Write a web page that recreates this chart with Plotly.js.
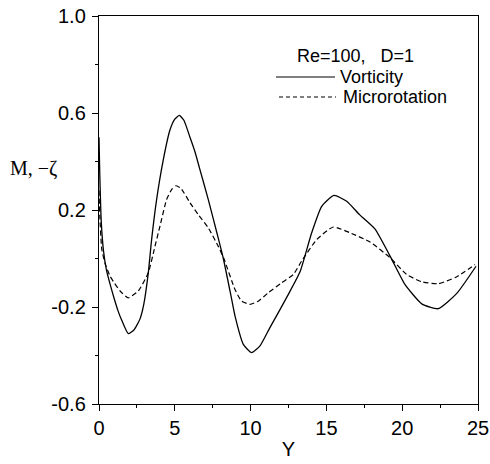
<!DOCTYPE html>
<html>
<head>
<meta charset="utf-8">
<script src="https://cdn.plot.ly/plotly-3.0.1.min.js"></script>
<style>
  html, body { margin: 0; padding: 0; background: #fff; }
  #chart { width: 490px; height: 464px; }
</style>
</head>
<body>
<div id="chart"></div>
<script>
// Vorticity profile (solid)
const vortY = [0, 0.05, 0.15, 0.3, 0.5, 0.75, 1.0, 1.25, 1.5, 1.93, 2.3, 2.7, 2.95, 3.25, 3.47, 3.8, 4.24, 4.68, 5.0, 5.3, 5.6, 6.0, 6.33, 6.62, 7.21, 7.8, 8.2, 8.71, 8.97, 9.52, 10.07, 10.62, 11.23, 11.83, 12.49, 13.26, 14.03, 14.69, 15.5, 16.34, 17.2, 18.2, 19.2, 20.18, 21.29, 22.38, 23.6, 24.87];
const vortVal = [0.50, 0.35, 0.15, 0.03, -0.05, -0.11, -0.165, -0.215, -0.255, -0.31, -0.295, -0.25, -0.19, -0.06, 0.078, 0.243, 0.407, 0.53, 0.575, 0.59, 0.57, 0.50, 0.44, 0.375, 0.243, 0.10, 0.0, -0.155, -0.237, -0.354, -0.388, -0.36, -0.29, -0.223, -0.148, -0.055, 0.106, 0.215, 0.26, 0.236, 0.18, 0.122, 0.01, -0.107, -0.187, -0.207, -0.144, -0.032];

// Microrotation profile (dashed)
const microY = [0, 0.05, 0.18, 0.4, 0.73, 1.0, 1.39, 1.93, 2.59, 3.25, 3.69, 4.02, 4.46, 4.8, 5.08, 5.4, 6.0, 6.55, 7.21, 7.87, 8.26, 8.97, 9.41, 9.96, 10.5, 11.17, 12.05, 12.82, 13.37, 14.36, 15.46, 16.56, 17.9, 19.2, 20.3, 21.29, 22.38, 23.6, 24.8];
const microVal = [0.28, 0.18, 0.04, -0.02, -0.073, -0.10, -0.134, -0.162, -0.134, -0.059, 0.05, 0.133, 0.243, 0.285, 0.30, 0.29, 0.23, 0.181, 0.126, 0.05, -0.004, -0.128, -0.176, -0.189, -0.176, -0.141, -0.10, -0.066, -0.01, 0.078, 0.13, 0.106, 0.067, 0.003, -0.066, -0.096, -0.104, -0.075, -0.025];

// Axis ticks
const xTicks = [0, 5, 10, 15, 20, 25];
const xMinor = [2.5, 7.5, 12.5, 17.5, 22.5];
const yTicks = [-0.6, -0.2, 0.2, 0.6, 1.0];
const yTickText = ["-0.6", "-0.2", "0.2", "0.6", "1.0"];
const yMinor = [-0.4, 0, 0.4, 0.8];

const seriesNames = ["Vorticity", "Microrotation"];
const legendTitle = "Re=100,\u00a0\u00a0\u00a0D=1";

const sans = "Liberation Sans, Arial, sans-serif";
const serif = "Liberation Serif, Times New Roman, serif";

const W = 490, H = 464;
const M = { l: 99, r: 12, t: 16, b: 60 };
const pw = W - M.l - M.r, ph = H - M.t - M.b;
const px = (x) => (x - M.l) / pw;   // pixel -> paper x
const py = (y) => (H - M.b - y) / ph; // pixel -> paper y

const traces = [
  {
    x: vortY, y: vortVal, type: "scatter", mode: "lines", name: seriesNames[0],
    line: { color: "#000", width: 1.3, shape: "spline", smoothing: 0.5 },
    showlegend: false, hoverinfo: "skip"
  },
  {
    x: microY, y: microVal, type: "scatter", mode: "lines", name: seriesNames[1],
    line: { color: "#000", width: 1.2, dash: "5px,3px", shape: "spline", smoothing: 0.5 },
    showlegend: false, hoverinfo: "skip"
  }
];

const axisCommon = {
  showgrid: false, zeroline: false,
  showline: true, linecolor: "#000", linewidth: 1.2, mirror: true,
  ticks: "outside", ticklen: 6, tickwidth: 1, tickcolor: "#000",
  tickfont: { family: sans, size: 20, color: "#000" }
};

const layout = {
  width: W, height: H,
  margin: M,
  paper_bgcolor: "#fff", plot_bgcolor: "#fff",
  showlegend: false,
  xaxis: Object.assign({}, axisCommon, {
    range: [0, 25],
    tickmode: "array", tickvals: xTicks,
    minor: { tickvals: xMinor, ticks: "outside", ticklen: 3, tickcolor: "#000", tickwidth: 1 },
    title: { text: "Y", font: { family: sans, size: 20, color: "#000" }, standoff: 3 }
  }),
  yaxis: Object.assign({}, axisCommon, {
    range: [-0.6, 1.0],
    tickmode: "array", tickvals: yTicks, ticktext: yTickText,
    ticklabelstandoff: 2,
    minor: { tickvals: yMinor, ticks: "outside", ticklen: 3, tickcolor: "#000", tickwidth: 1 }
  }),
  shapes: [
    { type: "line", xref: "paper", yref: "paper", x0: px(276), x1: px(335), y0: py(77), y1: py(77),
      line: { color: "#000", width: 1.2 } },
    { type: "line", xref: "paper", yref: "paper", x0: px(279), x1: px(336), y0: py(97), y1: py(97),
      line: { color: "#000", width: 1.2, dash: "4px,3px" } }
  ],
  annotations: [
    { xref: "paper", yref: "paper", x: px(33), y: py(168), xanchor: "center", yanchor: "middle",
      text: "M, \u2212\u03b6", showarrow: false, font: { family: serif, size: 20, color: "#000" } },
    { xref: "paper", yref: "paper", x: px(355), y: py(56), xanchor: "center", yanchor: "middle",
      text: legendTitle, showarrow: false, font: { family: sans, size: 18, color: "#000" } },
    { xref: "paper", yref: "paper", x: px(338), y: py(77), xanchor: "left", yanchor: "middle",
      text: seriesNames[0], showarrow: false, font: { family: sans, size: 18, color: "#000" } },
    { xref: "paper", yref: "paper", x: px(341), y: py(97), xanchor: "left", yanchor: "middle",
      text: seriesNames[1], showarrow: false, font: { family: sans, size: 18, color: "#000" } }
  ]
};

Plotly.newPlot("chart", traces, layout, { staticPlot: true, displayModeBar: false });
</script>
</body>
</html>
